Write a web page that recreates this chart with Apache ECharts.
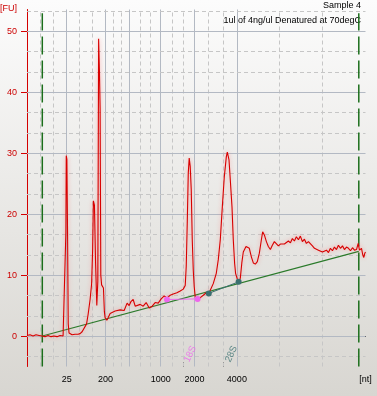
<!DOCTYPE html>
<html>
<head>
<meta charset="utf-8">
<script src="https://cdn.jsdelivr.net/npm/echarts@6/dist/echarts.min.js"></script>
<style>
  html, body { margin: 0; padding: 0; }
  #chart { width: 377px; height: 396px; }
</style>
</head>
<body>
<div id="chart"></div>
<script>
// migration time (s) of the ladder fragments, these carry the solid grid lines
const ladderTime = [18.0, 23.87, 29.58, 33.13, 37.75, 42.75, 49.0, 68.0]
const xLabelTime = [23.87, 29.58, 37.75, 42.75, 49.0, 68.0]
const xLabelText = ['25', '200', '1000', '2000', '4000', '[nt]']
const xDownTick = [33.13]
const xUpTick = [41.08, 46.92]
const fuTicks = [0, 10, 20, 30, 40, 50]
const fuMinor = [-3.33, 3.33, 6.67, 13.33, 16.67, 23.33, 26.67, 33.33, 36.67, 43.33, 46.67, 53.33]

const traceTime = [
  18.00, 18.44, 18.89, 19.33, 19.78, 20.22, 20.66, 21.11, 21.55, 21.99, 22.44, 22.88, 23.33, 23.62,
  23.74, 23.80, 23.89, 23.99, 24.09, 24.21, 24.36, 24.66, 25.10, 25.54, 25.84, 26.14, 26.43, 26.80,
  27.02, 27.32, 27.54, 27.69, 27.81, 27.96, 28.13, 28.31, 28.46, 28.58, 28.70, 28.80, 28.90, 29.02,
  29.29, 29.43, 29.54, 29.79, 29.98, 30.28, 30.57, 31.02, 31.31, 31.76, 32.35, 32.79, 33.09, 33.38,
  33.68, 33.98, 34.27, 34.72, 35.16, 35.60, 36.05, 36.49, 36.93, 37.38, 37.82, 38.27, 38.67, 39.15,
  39.60, 40.14, 40.63, 41.08, 41.37, 41.52, 41.67, 41.82, 41.96, 42.11, 42.26, 42.41, 42.56, 42.70,
  42.85, 43.15, 43.59, 44.04, 44.48, 44.85, 45.07, 45.51, 45.96, 46.25, 46.55, 46.85, 47.14, 47.44,
  47.59, 47.84, 48.03, 48.28, 48.47, 48.67, 48.81, 49.02, 49.26, 49.51, 49.73, 49.95, 50.35, 50.59,
  50.84, 51.14, 51.43, 51.73, 52.02, 52.32, 52.62, 52.81, 53.06, 53.36, 53.65, 53.95, 54.24, 54.54,
  54.83, 55.13, 55.43, 55.72, 56.02, 56.31, 56.61, 56.91, 57.20, 57.50, 57.79, 58.09, 58.38, 58.68,
  58.98, 59.27, 59.57, 59.86, 60.16, 60.46, 60.75, 61.05, 61.34, 61.64, 61.93, 62.23, 62.53, 62.82,
  63.12, 63.41, 63.71, 64.00, 64.30, 64.60, 64.89, 65.19, 65.49, 65.78, 66.08, 66.37, 66.67, 66.92,
  67.11, 67.41, 67.60, 67.75, 67.90, 68.00
]
const traceFU = [
  0.1, 0.2, 0.0, 0.2, 0.1, 0.0, -0.1, 0.1, -0.1, 0.0, -0.1, 0.1, 0.0, 0.2,
  16.9, 29.6, 29.0, 17.0, 2.0, 0.5, 0.3, 0.2, 0.3, 0.3, 0.4, 0.7, 1.0, 2.0,
  3.5, 6.0, 8.5, 14.0, 22.2, 21.5, 12.0, 5.0, 9.0, 48.8, 43.5, 37.4, 10.0, 8.4,
  7.9, 4.0, 3.0, 2.6, 3.0, 3.7, 3.9, 4.1, 3.8, 4.3, 4.2, 5.4, 5.0, 5.7,
  6.0, 4.9, 4.6, 5.2, 4.9, 5.5, 4.6, 4.9, 5.5, 5.4, 6.1, 6.6, 6.2, 6.7,
  6.9, 7.1, 7.4, 7.7, 8.3, 11.4, 18.5, 26.7, 29.2, 27.8, 24.0, 15.8, 10.8, 8.1,
  6.4, 6.0, 6.3, 6.7, 7.1, 7.0, 7.5, 8.6, 10.3, 12.5, 15.8, 21.2, 26.1, 29.4,
  30.2, 28.9, 25.6, 21.2, 15.8, 11.9, 10.3, 9.5, 8.9, 9.5, 12.0, 13.8, 14.7, 14.8,
  14.4, 13.0, 12.0, 11.8, 12.2, 13.6, 15.8, 17.1, 16.6, 15.5, 14.7, 14.2, 14.9, 15.5,
  15.2, 14.8, 15.1, 14.8, 15.1, 15.3, 15.6, 15.3, 16.0, 15.6, 16.3, 15.8, 16.4, 15.5,
  15.9, 15.2, 15.5, 15.2, 14.8, 14.4, 14.6, 14.1, 14.2, 13.8, 13.6, 14.1, 13.7, 14.4,
  14.0, 14.6, 14.2, 14.9, 14.4, 14.8, 14.2, 14.6, 14.4, 14.0, 14.5, 14.1, 14.2, 15.2,
  14.1, 14.4, 13.3, 12.9, 13.6, 13.8
]

const markerTime = [20.26, 67.01]            // lower / upper marker (green dashes)
const baselineTime = [20.26, 67.01]
const baselineFU = [0, 13.9]
const peak18S = [[38.67, 6.0], [43.19, 6.1]] // start / end of the 18S peak
const peak28S = [[44.85, 7.0], [49.26, 8.9]] // start / end of the 28S peak
const peakNames = ['18S', '28S']
const peakNameTime = [42.11, 48.18]
const peakColors = ['#ee66ee', '#3a7070']

const font = 'Liberation Sans'
const solidGrid = { color: '#b3b9c3', width: 1, type: 'solid' }
const dashGrid = { color: '#c6c6c6', width: 1, type: [4, 3] }

const gridLines = []
ladderTime.forEach((t, i) => {
  if (i > 0 && i < ladderTime.length - 1) gridLines.push({ xAxis: t, lineStyle: solidGrid })
  if (i < ladderTime.length - 1) {
    const d = (ladderTime[i + 1] - t) / 3
    gridLines.push({ xAxis: t + d, lineStyle: dashGrid }, { xAxis: t + 2 * d, lineStyle: dashGrid })
  }
})
fuTicks.forEach(v => gridLines.push({ yAxis: v, lineStyle: solidGrid }))
fuMinor.forEach(v => gridLines.push({ yAxis: v, lineStyle: dashGrid }))

const xName = v => {
  let best = 0
  xLabelTime.forEach((t, i) => { if (Math.abs(t - v) < Math.abs(xLabelTime[best] - v)) best = i })
  return xLabelText[best]
}

const chart = echarts.init(document.getElementById('chart'))
chart.setOption({
  animation: false,
  backgroundColor: {
    type: 'linear', x: 0, y: 0, x2: 0, y2: 1,
    colorStops: [{ offset: 0, color: '#fcfcfc' }, { offset: 1, color: '#d8d6d1' }],
  },
  graphic: [
    { type: 'text', x: 361, y: 6, style: { text: 'Sample 4', align: 'right', verticalAlign: 'middle', font: `9px "${font}"`, fill: '#000' } },
    { type: 'text', x: 361, y: 20.5, style: { text: '1ul of 4ng/ul Denatured at 70degC', align: 'right', verticalAlign: 'middle', font: `9px "${font}"`, fill: '#000' } },
    { type: 'text', x: 0, y: 8.5, style: { text: '[FU]', align: 'left', verticalAlign: 'middle', font: `9px "${font}"`, fill: '#cc0000' } },
  ],
  grid: { left: 27, right: 11.5, top: 9.5, bottom: 29.5 },
  xAxis: [
    {
      type: 'value', min: 18, max: 68,
      axisLine: { lineStyle: { color: '#000', width: 1 } },
      axisTick: { customValues: xDownTick, length: 5, lineStyle: { color: '#000' } },
      axisLabel: { customValues: xLabelTime, formatter: xName, margin: 9, color: '#000', fontFamily: font, fontSize: 9 },
      splitLine: { show: false },
    },
    {
      type: 'value', min: 18, max: 68, position: 'bottom', offset: 0,
      axisLine: { show: false },
      axisTick: { customValues: xUpTick, inside: true, length: 4, lineStyle: { color: '#000' } },
      axisLabel: { show: false },
      splitLine: { show: false },
    },
  ],
  yAxis: {
    type: 'value', min: -5, max: 53.6,
    axisLine: { show: true, lineStyle: { color: '#d40000', width: 1 } },
    axisTick: { show: true, customValues: fuTicks, length: 6, lineStyle: { color: '#d40000' } },
    axisLabel: { customValues: fuTicks, margin: 10, color: '#cc0000', fontFamily: font, fontSize: 9 },
    splitLine: { show: false },
  },
  series: [
    {
      name: 'grid', type: 'line', data: [], z: 1, silent: true,
      markLine: { z: 1, silent: true, symbol: 'none', label: { show: false }, data: gridLines },
    },
    ...markerTime.map(t => ({
      type: 'line', z: 12, silent: true, symbol: 'none',
      data: [[t, -5], [t, 53]],
      lineStyle: { color: '#1b6e1b', width: 1.5, type: [18, 6] },
    })),
    {
      name: 'baseline', type: 'line', z: 13, silent: true, symbol: 'none',
      data: baselineTime.map((t, i) => [t, baselineFU[i]]),
      lineStyle: { color: '#2a7a2a', width: 1.2 },
    },
    {
      name: 'trace', type: 'line', z: 14, silent: true, symbol: 'none',
      data: traceTime.map((t, i) => [t, traceFU[i]]),
      lineStyle: { color: '#d80000', width: 1.1, shadowColor: 'rgba(255,110,110,0.6)', shadowBlur: 4 },
    },
    ...[peak18S, peak28S].map((p, i) => ({
      type: 'line', z: 15, silent: true, symbol: 'circle', symbolSize: 6, showSymbol: true,
      data: p,
      itemStyle: { color: peakColors[i] },
      lineStyle: { color: peakColors[i], width: 1 },
    })),
    {
      type: 'scatter', z: 15, silent: true, symbolSize: 0,
      data: peakNames.map((n, i) => ({ value: [peakNameTime[i], -2.95], name: n, label: { color: peakColors[i] } })),
      label: {
        show: true, position: 'inside', rotate: 65, fontFamily: font, fontSize: 9.5,
        formatter: p => p.name,
      },
      itemStyle: { color: 'transparent' },
    },
  ],
})
</script>
</body>
</html>
